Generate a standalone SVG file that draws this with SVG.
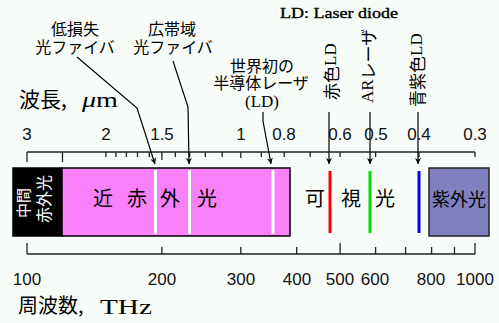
<svg xmlns="http://www.w3.org/2000/svg" width="499" height="323" viewBox="0 0 499 323">
<defs>
<style>
.jp{font-family:"Noto Sans CJK JP","Noto Sans",sans-serif;fill:#000}
.num{font-family:"Liberation Sans",Arial,sans-serif;font-size:17px;fill:#111;text-anchor:middle}
.ser{font-family:"Liberation Serif","Times New Roman",serif}
.ax{stroke:#222;stroke-width:1.5;fill:none}
.tk{stroke:#222;stroke-width:1.3;fill:none}
.con{stroke:#000;stroke-width:1.2;fill:none;marker-end:url(#ah)}
.wl{stroke:#fff;stroke-width:3}
</style>
<marker id="ah" viewBox="0 0 10 10" refX="10" refY="5" markerWidth="7" markerHeight="6" orient="auto" markerUnits="userSpaceOnUse">
<path d="M0,0 L10,5 L0,10 L3,5 z" fill="#000"/>
</marker>
</defs>
<rect width="499" height="323" fill="#f8fcf8"/>

<g id="legend">
<text class="ser" x="339" y="18" font-size="15" stroke="#000" stroke-width="0.35" text-anchor="middle" textLength="118" lengthAdjust="spacingAndGlyphs">LD: Laser diode</text>
</g>

<g id="wavelength-axis">
<text class="jp" x="19" y="107" font-size="21">波長,</text>
<text class="ser" x="82" y="107" font-size="22" textLength="36" lengthAdjust="spacingAndGlyphs"><tspan font-style="italic">μ</tspan>m</text>
<path class="ax" d="M27,152 H475"/>
<path class="tk" d="M27,152 v10 M62.5,152 v10 M105.9,152 v5 M115.9,152 v5 M126.4,152 v5 M137.5,152 v5 M149.3,152 v5 M161.9,152 v8 M175.3,152 v5 M189.7,152 v5 M205.3,152 v5 M222.2,152 v5 M240.8,152 v6 M261.3,152 v5 M284.2,152 v5 M310.2,152 v5 M340.1,152 v5 M375.6,152 v5 M419,152 v5 M475,152 v5"/>
<text class="num" x="27" y="140" font-size="18">3</text>
<text class="num" x="106" y="140" font-size="18">2</text>
<text class="num" x="162" y="140" font-size="18">1.5</text>
<text class="num" x="241" y="140" font-size="18">1</text>
<text class="num" x="284" y="140" font-size="18">0.8</text>
<text class="num" x="340" y="140" font-size="18">0.6</text>
<text class="num" x="376" y="140" font-size="18">0.5</text>
<text class="num" x="419" y="140" font-size="18">0.4</text>
<text class="num" x="475" y="140" font-size="18">0.3</text>
</g>

<g id="mid-ir">
<rect x="13" y="168" width="49" height="68" fill="#000" stroke="#000" stroke-width="1.5"/>
<text class="jp" font-size="15" style="fill:#fff" text-anchor="middle" dominant-baseline="central" transform="translate(22,203) rotate(-90)">中間</text>
<text class="jp" font-size="16" style="fill:#fff" text-anchor="middle" dominant-baseline="central" transform="translate(43,199) rotate(-90)">赤外光</text>
</g>

<g id="near-ir">
<rect x="62" y="168" width="228" height="68" fill="#f880f8" stroke="#000" stroke-width="1.5"/>
<path class="wl" d="M155.5,170 V234 M189.5,170 V234 M273,170 V234"/>
<text class="jp" x="103" y="206" font-size="20" text-anchor="middle">近</text>
<text class="jp" x="137" y="206" font-size="20" text-anchor="middle">赤</text>
<text class="jp" x="170" y="206" font-size="20" text-anchor="middle">外</text>
<text class="jp" x="207" y="206" font-size="20" text-anchor="middle">光</text>
</g>

<g id="visible">
<path d="M330,171 V233" stroke="#ff0000" stroke-width="3"/>
<path d="M370,171 V233" stroke="#00e000" stroke-width="3"/>
<path d="M419,171 V233" stroke="#0000ff" stroke-width="3"/>
<text class="jp" x="315" y="206" font-size="20" text-anchor="middle">可</text>
<text class="jp" x="351" y="206" font-size="20" text-anchor="middle">視</text>
<text class="jp" x="385" y="206" font-size="20" text-anchor="middle">光</text>
</g>

<g id="uv">
<rect x="429" y="168" width="60" height="68" fill="#8080c0" stroke="#222" stroke-width="1.5"/>
<text class="jp" x="459" y="206" font-size="18" text-anchor="middle">紫外光</text>
</g>

<g id="label-lowloss">
<text class="jp" x="75" y="35" font-size="16" text-anchor="middle">低損失</text>
<text class="jp" x="75" y="53" font-size="16" text-anchor="middle">光ファイバ</text>
</g>
<g id="label-broadband">
<text class="jp" x="172" y="35" font-size="16" text-anchor="middle">広帯域</text>
<text class="jp" x="173" y="53" font-size="16" text-anchor="middle">光ファイバ</text>
</g>
<g id="label-firstld">
<text class="jp" x="262" y="72" font-size="16" text-anchor="middle">世界初の</text>
<text class="jp" x="261" y="89" font-size="16" text-anchor="middle">半導体レーザ</text>
<text class="ser" x="262" y="107" font-size="17" text-anchor="middle">(LD)</text>
</g>
<g id="label-redld">
<text class="jp" font-size="17" dominant-baseline="central" transform="translate(330,100) rotate(-90)">赤色<tspan class="ser">LD</tspan></text>
</g>
<g id="label-arlaser">
<text class="jp" font-size="17" dominant-baseline="central" transform="translate(367,103) rotate(-90)"><tspan class="ser">AR</tspan>レーザ</text>
</g>
<g id="label-blueld">
<text class="jp" font-size="17" dominant-baseline="central" transform="translate(416,107) rotate(-90)">青紫色<tspan class="ser">LD</tspan></text>
</g>

<g id="connectors">
<polyline class="con" points="77,57 137,108 155,164"/>
<polyline class="con" points="173,61 188,107 189,164"/>
<polyline class="con" points="263,112 263,121 271,164"/>
<polyline class="con" points="329,112 329,164"/>
<polyline class="con" points="370,112 370,164"/>
<polyline class="con" points="418,112 418,164"/>
</g>

<g id="frequency-axis">
<path class="ax" d="M27,254 H475"/>
<path class="tk" d="M27,254 v-11 M161.9,254 v-7 M240.8,254 v-7 M296.7,254 v-7 M340.1,254 v-11 M375.6,254 v-7 M405.6,254 v-7 M431.6,254 v-7 M454.5,254 v-7 M475,254 v-11"/>
<text class="num" x="27" y="285">100</text>
<text class="num" x="162" y="285">200</text>
<text class="num" x="241" y="285">300</text>
<text class="num" x="297" y="285">400</text>
<text class="num" x="340" y="285">500</text>
<text class="num" x="375" y="285">600</text>
<text class="num" x="431" y="285">800</text>
<text class="num" x="475" y="285">1000</text>
<text class="jp" x="18" y="313" font-size="20">周波数,</text>
<text class="ser" x="100" y="314" font-size="20" textLength="52" lengthAdjust="spacingAndGlyphs">THz</text>
</g>
</svg>
